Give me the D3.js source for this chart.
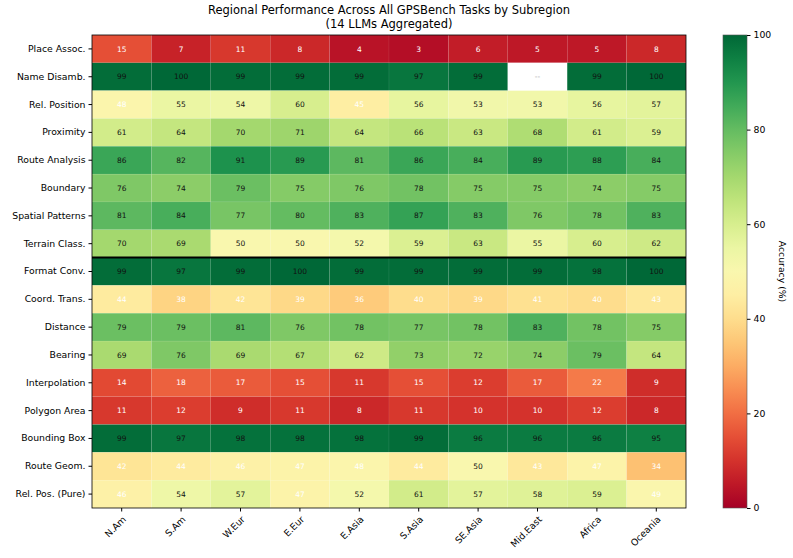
<!DOCTYPE html>
<html>
<head>
<meta charset="utf-8">
<script src="https://cdn.jsdelivr.net/npm/d3@7"></script>
<style>
  body { margin: 0; background: #fff; }
  svg text { font-family: 'DejaVu Sans', sans-serif; }
</style>
</head>
<body>
<div id="chart"></div>
<script>
const regions = ['N.Am', 'S.Am', 'W.Eur', 'E.Eur', 'E.Asia', 'S.Asia', 'SE.Asia', 'Mid.East', 'Africa', 'Oceania'];
const tasks = ['Place Assoc.', 'Name Disamb.', 'Rel. Position', 'Proximity', 'Route Analysis', 'Boundary',
  'Spatial Patterns', 'Terrain Class.', 'Format Conv.', 'Coord. Trans.', 'Distance', 'Bearing',
  'Interpolation', 'Polygon Area', 'Bounding Box', 'Route Geom.', 'Rel. Pos. (Pure)'];

// accuracy (%) per task row, per region column; null = no data
const placeAssoc    = [15, 7, 11, 8, 4, 3, 6, 5, 5, 8];
const nameDisamb    = [99, 100, 99, 99, 99, 97, 99, null, 99, 100];
const relPosition   = [48, 55, 54, 60, 45, 56, 53, 53, 56, 57];
const proximity     = [61, 64, 70, 71, 64, 66, 63, 68, 61, 59];
const routeAnalysis = [86, 82, 91, 89, 81, 86, 84, 89, 88, 84];
const boundary      = [76, 74, 79, 75, 76, 78, 75, 75, 74, 75];
const spatialPat    = [81, 84, 77, 80, 83, 87, 83, 76, 78, 83];
const terrainClass  = [70, 69, 50, 50, 52, 59, 63, 55, 60, 62];
const formatConv    = [99, 97, 99, 100, 99, 99, 99, 99, 98, 100];
const coordTrans    = [44, 38, 42, 39, 36, 40, 39, 41, 40, 43];
const distance      = [79, 79, 81, 76, 78, 77, 78, 83, 78, 75];
const bearing       = [69, 76, 69, 67, 62, 73, 72, 74, 79, 64];
const interpolation = [14, 18, 17, 15, 11, 15, 12, 17, 22, 9];
const polygonArea   = [11, 12, 9, 11, 8, 11, 10, 10, 12, 8];
const boundingBox   = [99, 97, 98, 98, 98, 99, 96, 96, 96, 95];
const routeGeom     = [42, 44, 46, 47, 48, 44, 50, 43, 47, 34];
const relPosPure    = [46, 54, 57, 47, 52, 61, 57, 58, 59, 49];

const rows = [placeAssoc, nameDisamb, relPosition, proximity, routeAnalysis, boundary, spatialPat,
  terrainClass, formatConv, coordTrans, distance, bearing, interpolation, polygonArea, boundingBox,
  routeGeom, relPosPure];
const splitAfter = 'Terrain Class.';
const colorTicks = [0, 20, 40, 60, 80, 100];

const width = 793, height = 558;
const margin = { top: 35, left: 92, right: 107, bottom: 50 };
const plotW = width - margin.left - margin.right;
const plotH = height - margin.top - margin.bottom;
const tickFont = '9.3px';

const cells = [];
rows.forEach((r, i) => r.forEach((v, j) => cells.push({ task: tasks[i], region: regions[j], v })));

const svg = d3.select('#chart').append('svg')
  .attr('width', width).attr('height', height);

const x = d3.scaleBand().domain(regions).range([0, plotW]);
const y = d3.scaleBand().domain(tasks).range([0, plotH]);
const color = d3.scaleSequential(d3.interpolateRdYlGn).domain([0, 100]);

const g = svg.append('g').attr('transform', `translate(${margin.left},${margin.top})`);

g.selectAll('rect.cell')
  .data(cells)
  .join('rect')
  .attr('class', 'cell')
  .attr('x', d => x(d.region)).attr('y', d => y(d.task))
  .attr('width', x.bandwidth()).attr('height', y.bandwidth())
  .attr('fill', d => d.v == null ? '#fff' : color(d.v))
  .attr('stroke', 'rgba(255,255,255,0.12)')
  .attr('stroke-width', 0.5);

g.selectAll('text.val')
  .data(cells)
  .join('text')
  .attr('class', 'val')
  .attr('x', d => x(d.region) + x.bandwidth() / 2)
  .attr('y', d => y(d.task) + y.bandwidth() / 2)
  .attr('dy', '0.35em')
  .attr('text-anchor', 'middle')
  .style('font-size', '7.5px')
  .attr('fill', d => d.v == null ? '#aaa' : (d.v < 50 ? '#fff' : '#111'))
  .text(d => d.v == null ? '--' : d.v);

// group separator
const sepY = y(splitAfter) + y.bandwidth();
g.append('line')
  .attr('x1', 0).attr('x2', plotW)
  .attr('y1', sepY).attr('y2', sepY)
  .attr('stroke', '#000').attr('stroke-width', 2);

g.append('rect')
  .attr('width', plotW).attr('height', plotH)
  .attr('fill', 'none').attr('stroke', '#000').attr('stroke-width', 0.8);

// axes
const yAxis = g.append('g').call(d3.axisLeft(y).tickSize(3.5).tickPadding(3));
yAxis.select('.domain').remove();
yAxis.selectAll('text').style('font-size', tickFont).attr('fill', '#000');

const xAxis = g.append('g').attr('transform', `translate(0,${plotH})`)
  .call(d3.axisBottom(x).tickSize(3.5).tickPadding(3));
xAxis.select('.domain').remove();
xAxis.selectAll('text')
  .style('font-size', tickFont).attr('fill', '#000')
  .attr('text-anchor', 'end')
  .attr('x', 0).attr('y', 0).attr('dy', 0)
  .attr('transform', 'translate(5,12) rotate(-45)');

// title
const cx = margin.left + plotW / 2;
svg.append('text').attr('x', cx).attr('y', 14).attr('text-anchor', 'middle')
  .style('font-size', '11.5px').text('Regional Performance Across All GPSBench Tasks by Subregion');
svg.append('text').attr('x', cx).attr('y', 27.5).attr('text-anchor', 'middle')
  .style('font-size', '11.5px').text('(14 LLMs Aggregated)');

// colorbar
const cbX = 723, cbW = 24;
const cbScale = d3.scaleLinear().domain([0, 100]).range([plotH, 0]);
const defs = svg.append('defs');
const grad = defs.append('linearGradient').attr('id', 'cbgrad')
  .attr('x1', 0).attr('y1', 1).attr('x2', 0).attr('y2', 0);
d3.range(0, 101, 5).forEach(t => {
  grad.append('stop').attr('offset', `${t}%`).attr('stop-color', color(t));
});
const cb = svg.append('g').attr('transform', `translate(${cbX},${margin.top})`);
cb.append('rect').attr('width', cbW).attr('height', plotH)
  .attr('fill', 'url(#cbgrad)').attr('stroke', '#555').attr('stroke-width', 0.6);
const cbAxis = cb.append('g').attr('transform', `translate(${cbW},0)`)
  .call(d3.axisRight(cbScale).tickValues(colorTicks).tickSize(3.5).tickPadding(3));
cbAxis.select('.domain').remove();
cbAxis.selectAll('text').style('font-size', tickFont).attr('fill', '#000');
svg.append('text')
  .attr('transform', `translate(779,${margin.top + plotH / 2}) rotate(90)`)
  .attr('text-anchor', 'middle')
  .style('font-size', tickFont)
  .text('Accuracy (%)');
</script>
</body>
</html>
